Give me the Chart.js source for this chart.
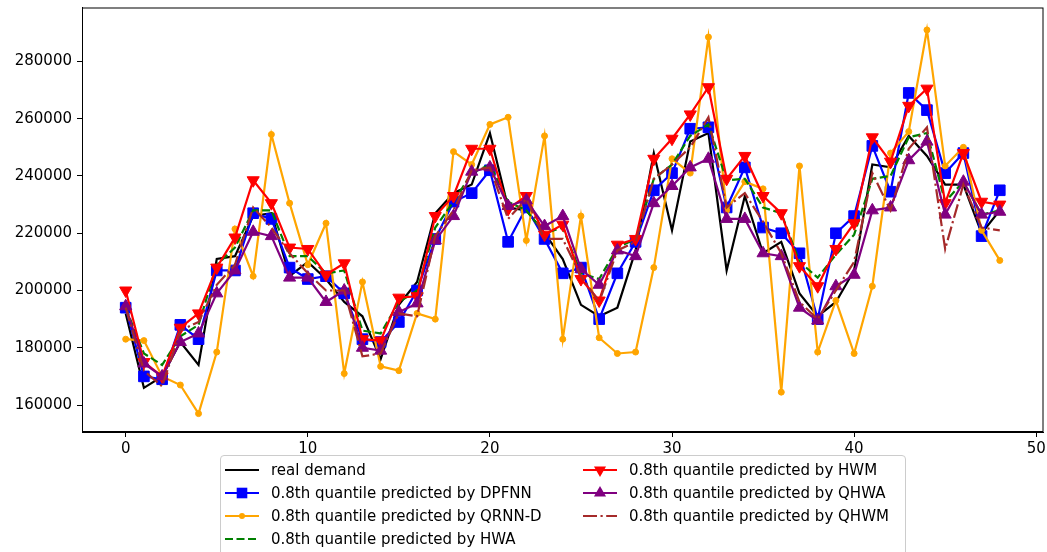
<!DOCTYPE html>
<html>
<head>
<meta charset="utf-8">
<script src="https://cdn.jsdelivr.net/npm/chart.js@4.4.0/dist/chart.umd.min.js"></script>
<style>
    html, body { margin: 0; padding: 0; background: #fff; overflow: hidden; }
    #wrap { position: relative; width: 1047px; height: 552px; overflow: hidden; }
    #chart { position: absolute; left: 0; top: -1px; }
    #legend {
        position: absolute; left: 220px; top: 455px; width: 686px; height: 110px;
        border: 1px solid #cccccc; border-radius: 4px; background: rgba(255, 255, 255, 0.8);
        box-sizing: border-box;
        font-family: "DejaVu Sans", sans-serif; font-size: 15px; color: #000;
    }
    .item { position: absolute; height: 20px; display: flex; align-items: center; white-space: nowrap; }
    .item canvas { margin-right: 12px; }
</style>
</head>
<body>
<div id="wrap">
    <canvas id="chart" width="1052" height="553"></canvas>
    <div id="legend"></div>
</div>
<script>
// x positions (period index)
const periods = [0, 1, 2, 3, 4, 5, 6, 7, 8, 9, 10, 11, 12, 13, 14, 15, 16, 17, 18, 19, 20, 21, 22, 23, 24,
    25, 26, 27, 28, 29, 30, 31, 32, 33, 34, 35, 36, 37, 38, 39, 40, 41, 42, 43, 44, 45, 46, 47, 48];

const realDemand = [192000, 166000, 170000, 182000, 174000, 211000, 212000, 226000, 227000, 205000, 210000, 204000, 196000,
    191000, 176000, 195000, 203000, 227000, 234000, 237000, 255000, 229000, 228000, 220000, 211000,
    195000, 191000, 194000, 214000, 248000, 221000, 252000, 255000, 207000, 233000, 213000, 217000,
    199000, 191000, 196000, 207000, 244000, 243000, 254000, 247000, 237000, 237000, 220000, 228000];

const dpfnn = [194000, 170000, 169000, 188000, 183000, 207000, 207000, 227000, 225000, 208000, 204000, 205000, 199000,
    183000, 182000, 189000, 200000, 218000, 231000, 234000, 242000, 217000, 229000, 218000, 206000,
    208000, 190000, 206000, 217000, 235000, 241000, 256500, 257000, 229000, 243000, 222000, 220000,
    213000, 190000, 220000, 226000, 250500, 234500, 269000, 263000, 241000, 248000, 219000, 235000];

const qrnnD = [183000, 182500, 170000, 167000, 157000, 178500, 221500, 205000, 254500, 230500, 209000, 223500, 171000,
    203000, 173500, 172000, 192000, 190000, 248500, 244000, 258000, 260500, 217500, 254000, 183000,
    226000, 183500, 178000, 178500, 208000, 246000, 241000, 288500, 228000, 238000, 235500, 164500,
    243500, 178500, 196500, 178000, 201500, 248000, 255500, 291000, 243500, 250000, 221000, 210500];

const hwa = [194000, 178000, 174000, 184000, 188000, 209000, 215000, 228000, 228000, 212000, 212000, 206000, 207000,
    186000, 185000, 196000, 200000, 222000, 231000, 241000, 244000, 231000, 228000, 220000, 222000,
    206000, 204000, 215000, 218000, 239000, 244000, 254000, 258000, 238500, 239000, 229000, 227000,
    210000, 204500, 212500, 219500, 239000, 240000, 253500, 255000, 231000, 238000, 226500, 228000];

const hwm = [200000, 175000, 170000, 187000, 192000, 208000, 218500, 238500, 230500, 215000, 214500, 205500, 209500,
    183000, 182500, 197500, 198000, 226000, 233000, 249500, 249500, 228500, 233000, 219500, 223000,
    204000, 196500, 216000, 218000, 246000, 253000, 261500, 271000, 239000, 247000, 233000, 227000,
    208500, 201500, 214500, 223500, 253500, 245000, 264500, 270500, 230500, 248000, 231000, 230000];

const qhwa = [194500, 174500, 170000, 182000, 185000, 199000, 207000, 220500, 219000, 204500, 204500, 196000, 200000,
    180000, 179000, 192500, 195500, 217500, 226000, 241500, 243000, 229500, 231500, 222500, 226000,
    207500, 202000, 214000, 212000, 230500, 236500, 243000, 246000, 225000, 225000, 213000, 212000,
    194000, 189500, 201500, 205500, 228000, 229000, 245500, 252000, 226500, 238000, 226500, 227500];

const qhwm = [194000, 172000, 166500, 186000, 189000, 202000, 209000, 229000, 222000, 213000, 206000, 200000, 200000,
    177000, 178000, 192000, 191000, 219000, 228000, 242000, 243000, 225000, 232000, 218000, 218000,
    205000, 196000, 214000, 217000, 239000, 244000, 250000, 260500, 229000, 234000, 224000, 213000,
    196000, 190000, 200000, 210000, 241000, 228000, 249500, 257000, 214500, 237000, 222000, 221000];

const xTicks = [0, 10, 20, 30, 40, 50];
const yTicks = [160000, 180000, 200000, 220000, 240000, 260000, 280000];

const series = [
    { label: 'real demand', data: realDemand, color: '#000000', dash: [], marker: null, r: 0, col: 0, row: 0 },
    { label: '0.8th quantile predicted by DPFNN', data: dpfnn, color: '#0000ff', dash: [], marker: 'rect', r: 7.5, col: 0, row: 1 },
    { label: '0.8th quantile predicted by QRNN-D', data: qrnnD, color: '#ffa500', dash: [], marker: 'circle', r: 3, col: 0, row: 2 },
    { label: '0.8th quantile predicted by HWA', data: hwa, color: '#008000', dash: [8, 3.5], marker: null, r: 0, col: 0, row: 3 },
    { label: '0.8th quantile predicted by HWM', data: hwm, color: '#ff0000', dash: [], marker: 'triangleDown', r: 7, col: 1, row: 0 },
    { label: '0.8th quantile predicted by QHWA', data: qhwa, color: '#800080', dash: [], marker: 'triangleUp', r: 7, col: 1, row: 1 },
    { label: '0.8th quantile predicted by QHWM', data: qhwm, color: '#a52a2a', dash: [14, 3.5, 2.2, 3.5], marker: null, r: 0, col: 1, row: 2 }
];

const FONT = { family: 'DejaVu Sans', size: 15 };

// full box around the plot, like matplotlib spines
const frame = {
    id: 'frame',
    afterDraw(chart) {
        const { ctx, chartArea: a } = chart;
        ctx.save();
        ctx.strokeStyle = '#000';
        ctx.lineWidth = 1;
        ctx.strokeRect(a.left + 0.5, a.top + 0.5, a.right - a.left - 1, a.bottom - a.top - 1);
        ctx.restore();
    }
};

new Chart(document.getElementById('chart').getContext('2d'), {
    type: 'line',
    data: {
        datasets: series.map((s, i) => ({
            label: s.label,
            data: s.data.map((v, j) => ({ x: periods[j], y: v })),
            borderColor: s.color,
            backgroundColor: s.color,
            borderWidth: 2.2,
            borderDash: s.dash,
            tension: 0,
            fill: false,
            pointRadius: s.r,
            pointStyle: s.marker === 'rect' ? 'rect' : (s.marker && s.marker.startsWith('triangle') ? 'triangle' : 'circle'),
            pointRotation: s.marker === 'triangleDown' ? 180 : 0,
            pointBackgroundColor: s.color,
            pointBorderColor: s.color,
            pointBorderWidth: 1,
            order: series.length - i
        }))
    },
    options: {
        responsive: false,
        animation: false,
        layout: { padding: { left: 0, right: 4, top: 5.5, bottom: 0 } },
        plugins: {
            legend: { display: false },
            tooltip: { enabled: false }
        },
        scales: {
            x: {
                type: 'linear',
                min: -2.4,
                max: 50.4,
                afterBuildTicks: (scale) => { scale.ticks = xTicks.map(v => ({ value: v })); },
                afterFit: (scale) => { scale.height = 120; scale.paddingLeft = 0; scale.paddingRight = 0; },
                grid: { drawOnChartArea: false, drawTicks: true, tickLength: 5, color: '#000' },
                border: { display: true, color: '#000' },
                ticks: { color: '#000', font: FONT, padding: 3, maxRotation: 0, autoSkip: false, callback: v => String(v) }
            },
            y: {
                min: 150580,
                max: 298840,
                afterBuildTicks: (scale) => { scale.ticks = yTicks.map(v => ({ value: v })); },
                afterFit: (scale) => { scale.width = 82; scale.paddingTop = 0; scale.paddingBottom = 0; },
                grid: { drawOnChartArea: false, drawTicks: true, tickLength: 5, color: '#000' },
                border: { display: true, color: '#000' },
                ticks: { color: '#000', font: FONT, padding: 5, autoSkip: false, callback: v => String(v) }
            }
        }
    },
    plugins: [frame]
});

// legend drawn as html, matplotlib style
function drawMarker(ctx, shape, x, y, r) {
    ctx.beginPath();
    if (shape === 'rect') {
        const s = r * Math.SQRT1_2;
        ctx.rect(x - s, y - s, 2 * s, 2 * s);
    } else if (shape === 'circle') {
        ctx.arc(x, y, r, 0, Math.PI * 2);
    } else if (shape === 'triangleUp' || shape === 'triangleDown') {
        const d = shape === 'triangleUp' ? -1 : 1;
        const h = r * Math.sqrt(3) / 2;
        ctx.moveTo(x, y + d * r);
        ctx.lineTo(x - h, y - d * r / 2);
        ctx.lineTo(x + h, y - d * r / 2);
        ctx.closePath();
    }
    ctx.fill();
}

const legendEl = document.getElementById('legend');
series.forEach(s => {
    const item = document.createElement('div');
    item.className = 'item';
    item.style.left = (s.col === 0 ? 4 : 362) + 'px';
    item.style.top = (4 + s.row * 23) + 'px';
    const c = document.createElement('canvas');
    c.width = 34; c.height = 18;
    const g = c.getContext('2d');
    g.strokeStyle = s.color;
    g.fillStyle = s.color;
    g.lineWidth = 2;
    g.setLineDash(s.dash);
    g.beginPath(); g.moveTo(0, 9); g.lineTo(34, 9); g.stroke();
    if (s.marker) drawMarker(g, s.marker, 17, 9, s.r);
    item.appendChild(c);
    const t = document.createElement('span');
    t.textContent = s.label;
    item.appendChild(t);
    legendEl.appendChild(item);
});
</script>
</body>
</html>
